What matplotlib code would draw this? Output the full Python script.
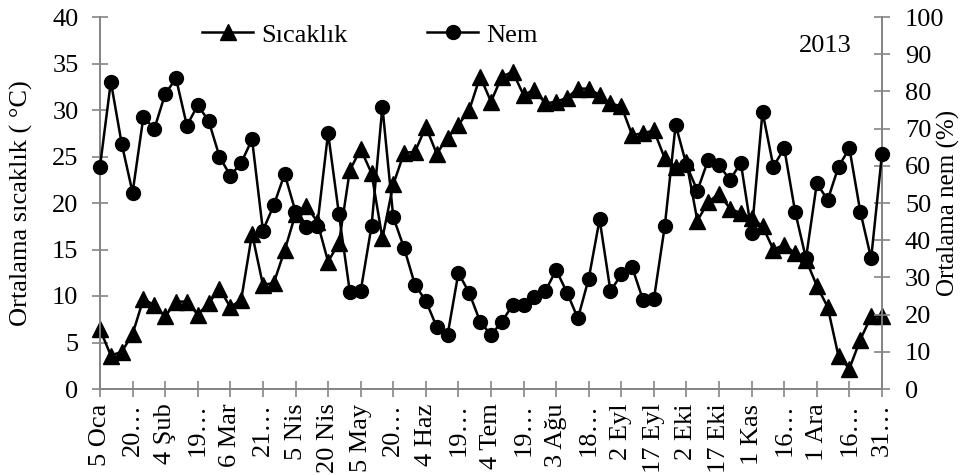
import matplotlib
matplotlib.use("Agg")
import matplotlib.pyplot as plt
from matplotlib.lines import Line2D

plt.rcParams['font.family'] = ['Liberation Serif', 'DejaVu Serif']

tick_labels = ["5 Oca", "20…", "4 Şub", "19…", "6 Mar", "21…", "5 Nis", "20 Nis",
               "5 May", "20…", "4 Haz", "19…", "4 Tem", "19…", "3 Ağu", "18…",
               "2 Eyl", "17 Eyl", "2 Eki", "17 Eki", "1 Kas", "16…", "1 Ara", "16…", "31…"]

sicaklik = [6.4, 3.6, 4.0, 5.9, 9.7, 9.0, 7.8, 9.4, 9.4, 8.0,
            9.2, 10.8, 8.8, 9.6, 16.7, 11.2, 11.4, 14.9, 18.8, 19.7,
            18.0, 13.7, 15.7, 23.5, 25.8, 23.2, 16.2, 22.0, 25.4, 25.5,
            28.2, 25.3, 27.0, 28.4, 30.0, 33.6, 30.9, 33.6, 34.1, 31.6,
            32.2, 30.7, 30.9, 31.3, 32.3, 32.3, 31.6, 30.7, 30.4, 27.3,
            27.5, 27.8, 24.8, 23.9, 24.4, 18.1, 20.1, 21.0, 19.4, 18.9,
            18.4, 17.5, 15.0, 15.5, 14.6, 13.9, 11.1, 8.8, 3.5, 2.2,
            5.3, 7.8, 7.9]

nem = [59.8, 82.6, 65.9, 52.8, 73.2, 69.9, 79.3, 83.5, 70.8, 76.3,
       72.1, 62.5, 57.3, 60.8, 67.1, 42.6, 49.4, 57.8, 47.7, 43.5,
       43.8, 68.8, 47.0, 26.2, 26.3, 43.8, 75.9, 46.2, 37.9, 28.0,
       23.7, 16.7, 14.5, 31.2, 25.8, 18.1, 14.5, 18.1, 22.6, 22.5,
       24.6, 26.3, 32.0, 25.9, 19.0, 29.7, 45.6, 26.3, 30.8, 32.7,
       23.9, 24.2, 43.8, 71.0, 60.2, 53.3, 61.6, 60.2, 56.2, 60.8,
       42.0, 74.5, 59.8, 64.7, 47.7, 35.1, 55.3, 50.8, 59.8, 64.7,
       47.7, 35.1, 63.2]

W, H = 962, 475
fig = plt.figure(figsize=(W / 100, H / 100), dpi=100)
x0, x1, ytop, ybot = 100, 882, 17, 389
ax = fig.add_axes([x0 / W, 1 - ybot / H, (x1 - x0) / W, (ybot - ytop) / H])
ax2 = ax.twinx()

x = list(range(len(sicaklik)))
axis_col = '#858585'
fs = 19

ax.plot(x, sicaklik, color='black', lw=1.8, marker='^', markersize=11.5,
        markerfacecolor='black', markeredgecolor='black', clip_on=False, zorder=3)
ax2.plot(x, nem, color='black', lw=1.8, marker='o', markersize=10,
         markerfacecolor='black', markeredgecolor='black', clip_on=False, zorder=3)

ax.set_xlim(0, len(sicaklik) - 1)
ax.set_ylim(0, 40)
ax2.set_ylim(0, 100)
ax.set_yticks(range(0, 41, 5))
ax2.set_yticks(range(0, 101, 10))
ax.set_xticks(range(0, len(sicaklik), 3))
ax.set_xticklabels(tick_labels, rotation=90, fontsize=fs)

for a in (ax, ax2):
    for s in a.spines.values():
        s.set_color(axis_col)
        s.set_linewidth(1.3)
    a.spines['top'].set_visible(False)
    a.tick_params(direction='inout', length=11, width=1.2, color=axis_col,
                  labelsize=fs, labelcolor='black')
ax.tick_params(axis='y', pad=10)
ax.tick_params(axis='x', pad=5)
ax2.tick_params(axis='y', pad=11)

ax.set_ylabel("Ortalama sıcaklık ( °C)", fontsize=fs)
ax2.set_ylabel("Ortalama nem (%)", fontsize=18, rotation=90)
ax.yaxis.set_label_coords((33 - x0) / (x1 - x0), 0.5)
ax2.yaxis.set_label_coords((937 - x0) / (x1 - x0), 0.5)

fig.text(825 / W, 1 - 46 / H, "2013", fontsize=fs, ha='center', va='center')

h1 = Line2D([], [], color='black', lw=1.8, marker='^', markersize=11.5)
h2 = Line2D([], [], color='black', lw=1.8, marker='o', markersize=10)
fig.legend([h1, h2], ["Sıcaklık", "Nem"], ncol=2, frameon=False, fontsize=fs,
           loc='center left', bbox_to_anchor=(202 / W, 1 - 35 / H),
           borderpad=0, borderaxespad=0, handlelength=1.95, handletextpad=0.3,
           columnspacing=3.0, numpoints=1)

fig.savefig("out.png", dpi=100)
